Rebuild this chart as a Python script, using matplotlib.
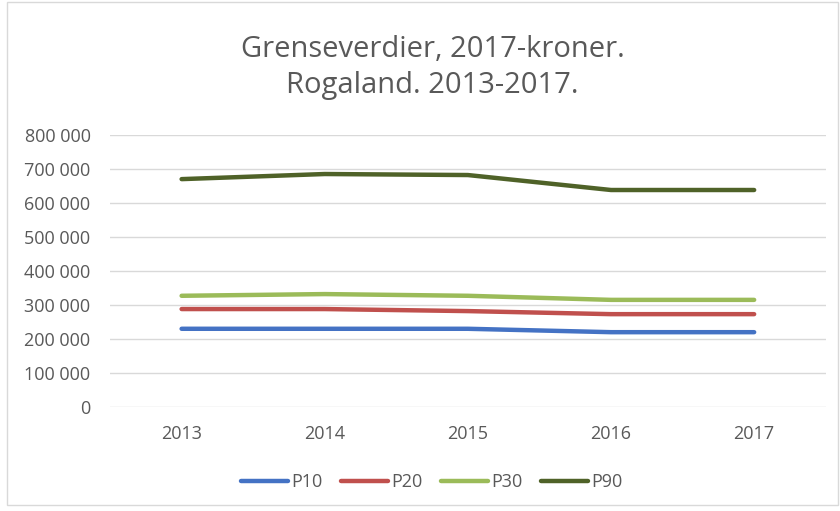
import numpy as np
import matplotlib.pyplot as plt
from matplotlib.patches import Rectangle

years = ['2013', '2014', '2015', '2016', '2017']
p10 = [230000, 230000, 230000, 220000, 220000]
p20 = [288000, 288000, 282000, 273000, 273000]
p30 = [327000, 332000, 327000, 315000, 315000]
p90 = [670000, 685000, 682000, 638000, 638000]

series = [('P10', p10, '#4472C4'), ('P20', p20, '#C0504D'),
          ('P30', p30, '#9BBB59'), ('P90', p90, '#4F6228')]

plt.rcParams['font.family'] = ['Open Sans', 'DejaVu Sans']

fig = plt.figure(figsize=(8.4, 5.11), dpi=100)
fig.patches.append(Rectangle((0.008, 0.012), 0.99, 0.985, transform=fig.transFigure,
                             fill=False, edgecolor='#D9D9D9', linewidth=1))
ax = fig.add_axes([0.131, 0.2035, 0.852, 0.5325])

x = np.arange(len(years))
for name, vals, col in series:
    ax.plot(x, vals, color=col, linewidth=3.2, solid_capstyle='round', label=name)

ax.set_xlim(-0.5, len(years) - 0.5)
ax.set_ylim(0, 800000)
ax.set_yticks(np.arange(0, 800001, 100000))
ax.set_yticklabels(['0' if v == 0 else f'{v // 1000} 000' for v in range(0, 800001, 100000)])
ax.set_xticks(x)
ax.set_xticklabels(years)
ax.tick_params(axis='both', length=0, labelsize=13, colors='#595959')
ax.tick_params(axis='x', pad=13)
ax.tick_params(axis='y', pad=14)
ax.yaxis.grid(True, color='#D9D9D9', linewidth=1)
ax.set_axisbelow(True)
for s in ax.spines.values():
    s.set_visible(False)

fig.text(0.515, 0.889, 'Grenseverdier, 2017-kroner.', ha='center', va='baseline',
         fontsize=21, color='#595959')
fig.text(0.515, 0.818, 'Rogaland. 2013-2017.', ha='center', va='baseline',
         fontsize=21, color='#595959')

fig.legend(loc='center', bbox_to_anchor=(0.514, 0.057), ncol=4, frameon=False,
           fontsize=13, labelcolor='#595959', handlelength=2.6, handletextpad=0.2,
           columnspacing=1.0)

fig.savefig('out.png', dpi=100)
